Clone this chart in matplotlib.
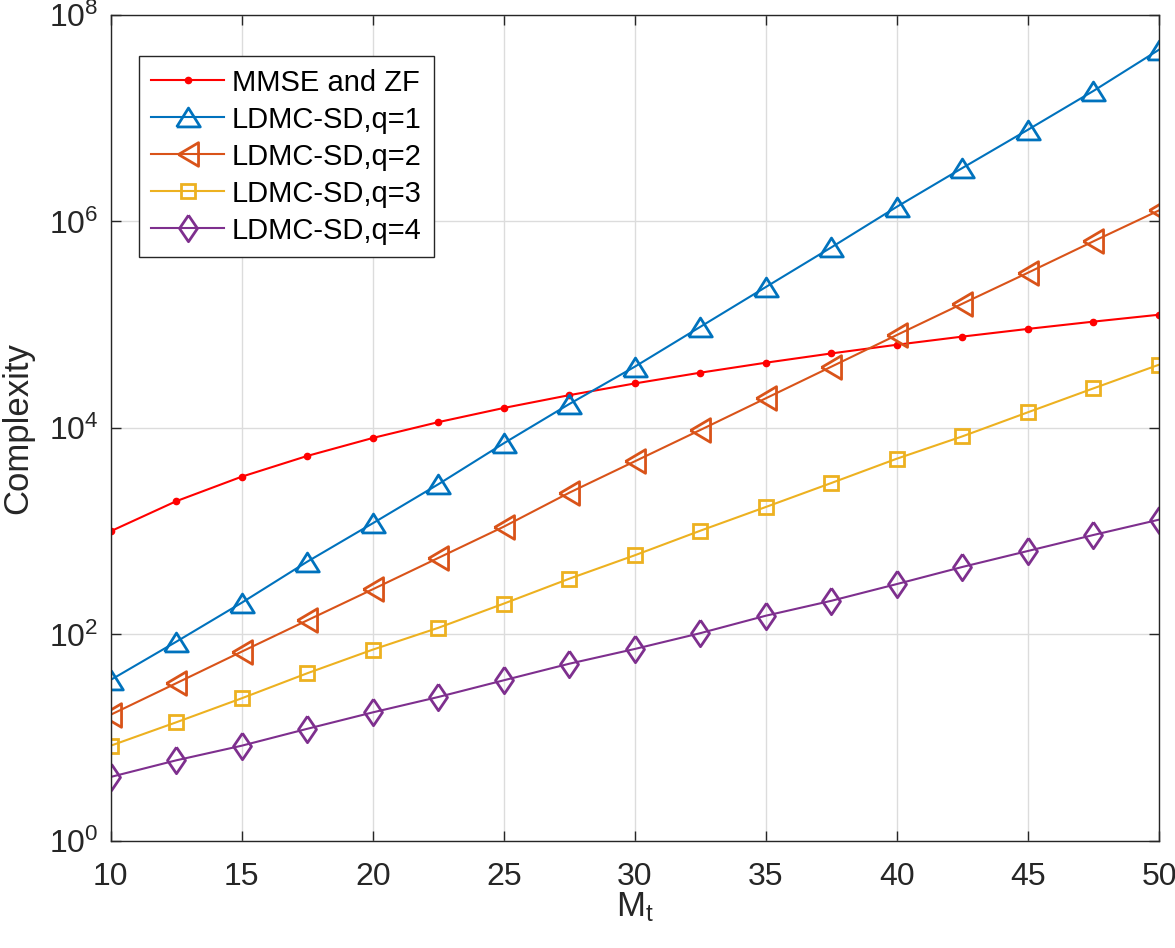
import numpy as np
import matplotlib
matplotlib.use("Agg")
import matplotlib.pyplot as plt
from matplotlib.ticker import FixedLocator

plt.rcParams['font.family'] = ['Liberation Sans', 'DejaVu Sans']
plt.rcParams['mathtext.fontset'] = 'custom'
plt.rcParams['mathtext.rm'] = 'Liberation Sans'
plt.rcParams['mathtext.it'] = 'Liberation Sans:italic'

# number of transmit antennas
mt = [10, 12.5, 15, 17.5, 20, 22.5, 25, 27.5, 30, 32.5, 35, 37.5, 40, 42.5, 45, 47.5, 50]

# complexity
mmse_zf = [1000, 1953, 3375, 5359, 8000, 11391, 15625, 20797, 27000, 34328,
           42875, 52734, 64000, 76766, 91125, 107172, 125000]
ldmc_q1 = [36.3, 85, 203, 507, 1194, 2850, 7110, 17070, 39260, 95500,
           232000, 562000, 1.39e6, 3.30e6, 7.74e6, 1.84e7, 4.61e7]
ldmc_q2 = [16.7, 33.7, 68.2, 137, 274, 551, 1107, 2362, 4755, 9570,
           19400, 39260, 79600, 160000, 319000, 643000, 1.28e6]
ldmc_q3 = [8.37, 14.1, 24.1, 42.1, 71.3, 116, 199, 347, 585, 1012,
           1718, 2933, 5045, 8300, 14200, 24200, 41000]
ldmc_q4 = [4.17, 6.04, 8.37, 12.2, 17.6, 24.8, 36.0, 52.1, 72.4, 103,
           152, 212, 308, 451, 644, 920, 1294]

labels = ['MMSE and ZF', 'LDMC-SD,q=1', 'LDMC-SD,q=2', 'LDMC-SD,q=3', 'LDMC-SD,q=4']
colors = ['#FF0000', '#0072BD', '#D95319', '#EDB120', '#7E2F8E']

# matlab-like markers (wider triangles, slimmer diamond)
tri_up = [(-1.0, -0.8), (1.0, -0.8), (0.0, 0.8), (-1.0, -0.8)]
tri_left = [(-0.85, 0.0), (0.85, 1.0), (0.85, -1.0), (-0.85, 0.0)]
diamond = [(0.0, 1.0), (0.68, 0.0), (0.0, -1.0), (-0.68, 0.0), (0.0, 1.0)]

fig = plt.figure(figsize=(11.75, 9.48), dpi=100)
ax = fig.add_axes([0.0942, 0.1129, 0.8922, 0.8713])

lw = 1.5
mew = 2.0
ax.plot(mt, mmse_zf, color=colors[0], lw=lw, marker='o', ms=4.5, mfc=colors[0], mec=colors[0], label=labels[0])
ax.plot(mt, ldmc_q1, color=colors[1], lw=lw, marker=tri_up, ms=17, mfc='none', mew=mew, label=labels[1])
ax.plot(mt, ldmc_q2, color=colors[2], lw=lw, marker=tri_left, ms=17, mfc='none', mew=mew, label=labels[2])
ax.plot(mt, ldmc_q3, color=colors[3], lw=lw, marker='s', ms=10.5, mfc='none', mew=mew, label=labels[3])
ax.plot(mt, ldmc_q4, color=colors[4], lw=lw, marker=diamond, ms=19, mfc='none', mew=mew, label=labels[4])

ax.set_yscale('log')
ax.set_xlim(10, 50)
ax.set_ylim(1, 1e8)
ax.xaxis.set_major_locator(FixedLocator(np.arange(10, 51, 5)))
ax.yaxis.set_major_locator(FixedLocator([1e0, 1e2, 1e4, 1e6, 1e8]))
ax.yaxis.set_minor_locator(plt.NullLocator())

ax.grid(True, color='#dcdcdc', lw=1.0)
ax.set_axisbelow(True)
for s in ax.spines.values():
    s.set_color('#262626')
    s.set_linewidth(1.0)
ax.tick_params(direction='in', length=7, width=1.0, colors='#262626',
               labelsize=23, top=True, right=True)
ax.tick_params(axis='x', pad=15)
ax.tick_params(axis='y', pad=9)

ax.set_xlabel(r'$\mathdefault{M_{t}}$', fontsize=25, color='#262626', labelpad=-1)
ax.set_ylabel('Complexity', fontsize=25, color='#262626', labelpad=10)

leg = ax.legend(loc='upper left', bbox_to_anchor=(0.027, 0.950), borderaxespad=0,
                fontsize=21, fancybox=False, framealpha=1, edgecolor='#262626',
                handlelength=2.5, handletextpad=0.26, labelspacing=0.31,
                borderpad=0.42)
leg.get_frame().set_linewidth(1.0)

fig.savefig('out.png', dpi=100)
